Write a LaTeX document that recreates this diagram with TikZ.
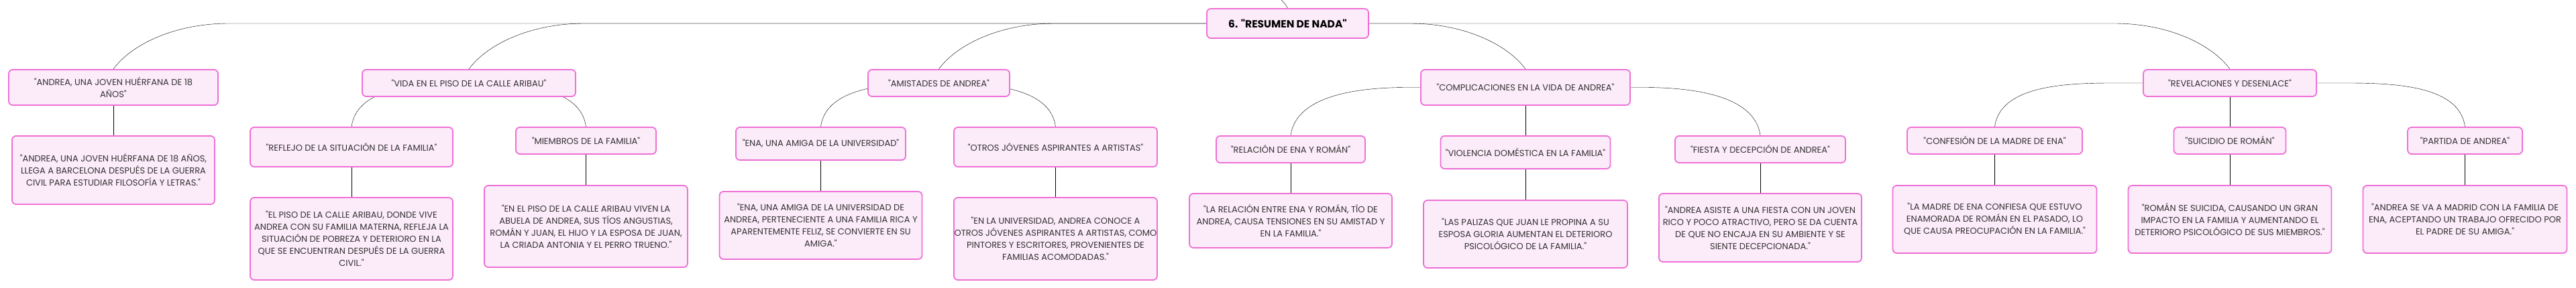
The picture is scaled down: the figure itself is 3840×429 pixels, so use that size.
\documentclass[tikz,border=0pt]{standalone}
\usepackage{fontspec}
\setmainfont{Poppins}[Ligatures=TeXOff]
\usepackage{tikz}
\usetikzlibrary{backgrounds}
\definecolor{boxline}{HTML}{EE6FD6}
\definecolor{boxfill}{HTML}{FCEBF9}
\definecolor{linkgray}{HTML}{767676}
\definecolor{ink}{HTML}{333333}

\begin{document}
\begin{tikzpicture}[x=1pt, y=1pt,
  box/.style 2 args={draw=boxline, line width=1.8pt, fill=boxfill, rounded corners=6pt,
    text=ink, align=center, inner sep=0pt, minimum width=#1pt, minimum height=#2pt,
    font=\fontsize{13}{18}\selectfont},
  rootbox/.style 2 args={box={#1}{#2}, font=\fontsize{15.5}{18}\selectfont\bfseries, text=black},
  link/.style={draw=linkgray, line width=1.2pt},
  trunk left/.style={to path={-- ([xshift=172pt]\tikztotarget.north |- \tikztostart)
    .. controls +(-80pt,0pt) and +(27pt,37pt) .. (\tikztotarget.north)}},
  trunk right/.style={to path={-- ([xshift=-172pt]\tikztotarget.north |- \tikztostart)
    .. controls +(80pt,0pt) and +(-27pt,37pt) .. (\tikztotarget.north)}},
  branch left/.style={to path={-- ([xshift=174pt]\tikztotarget.north |- \tikztostart)
    .. controls +(-73pt,0pt) and +(8pt,60pt) .. (\tikztotarget.north)}},
  branch right/.style={to path={-- ([xshift=-174pt]\tikztotarget.north |- \tikztostart)
    .. controls +(73pt,0pt) and +(-8pt,60pt) .. (\tikztotarget.north)}}]
\useasboundingbox (0,0) rectangle (3840,-429);
\coordinate (r) at (1919.5,-35);
\coordinate (up) at (1909,1);
\coordinate (a1) at (169,-130.5);
\coordinate (a2) at (169,-254);
\coordinate (b1) at (699,-124);
\coordinate (b2) at (524,-219.5);
\coordinate (b3) at (524,-356.5);
\coordinate (b4) at (873.5,-210);
\coordinate (b5) at (873.5,-338);
\coordinate (c1) at (1399.5,-124);
\coordinate (c2) at (1223.5,-214.5);
\coordinate (c3) at (1223.5,-336.5);
\coordinate (c4) at (1573.5,-219.5);
\coordinate (c5) at (1573.5,-356.5);
\coordinate (d1) at (2274,-130.5);
\coordinate (d2) at (1924,-223);
\coordinate (d3) at (1924,-329.5);
\coordinate (d4) at (2274,-227.5);
\coordinate (d5) at (2274,-349.5);
\coordinate (d6) at (2624,-223);
\coordinate (d7) at (2624,-340);
\coordinate (e1) at (3324,-124);
\coordinate (e2) at (2973.5,-210);
\coordinate (e3) at (2973.5,-327.5);
\coordinate (e4) at (3324,-210);
\coordinate (e5) at (3324,-327.5);
\coordinate (e6) at (3674.5,-210);
\coordinate (e7) at (3674.5,-327.5);
% draws boxes
\node[rootbox={241}{44}] (resumen) at (r) {6. "RESUMEN DE NADA"};
\node[box={312}{53}] (huerfana) at (a1) {"ANDREA, UNA JOVEN HUÉRFANA DE 18\\AÑOS"};
\node[box={302}{102}] (llegada) at (a2) {"ANDREA, UNA JOVEN HUÉRFANA DE 18 AÑOS,\\LLEGA A BARCELONA DESPUÉS DE LA GUERRA\\CIVIL PARA ESTUDIAR FILOSOFÍA Y LETRAS."};
\node[box={318}{40}] (piso) at (b1) {"VIDA EN EL PISO DE LA CALLE ARIBAU"};
\node[box={302}{59}] (reflejo) at (b2) {"REFLEJO DE LA SITUACIÓN DE LA FAMILIA"};
\node[box={302}{123}] (pobreza) at (b3) {"EL PISO DE LA CALLE ARIBAU, DONDE VIVE\\ANDREA CON SU FAMILIA MATERNA, REFLEJA LA\\SITUACIÓN DE POBREZA Y DETERIORO EN LA\\QUE SE ENCUENTRAN DESPUÉS DE LA GUERRA\\CIVIL."};
\node[box={209}{40}] (miembros) at (b4) {"MIEMBROS DE LA FAMILIA"};
\node[box={303}{122}] (habitantes) at (b5) {"EN EL PISO DE LA CALLE ARIBAU VIVEN LA\\ABUELA DE ANDREA, SUS TÍOS ANGUSTIAS,\\ROMÁN Y JUAN, EL HIJO Y LA ESPOSA DE JUAN,\\LA CRIADA ANTONIA Y EL PERRO TRUENO."};
\node[box={211}{40}] (amistades) at (c1) {"AMISTADES DE ANDREA"};
\node[box={253}{49}] (ena) at (c2) {"ENA, UNA AMIGA DE LA UNIVERSIDAD"};
\node[box={302}{101}] (enarica) at (c3) {"ENA, UNA AMIGA DE LA UNIVERSIDAD DE\\ANDREA, PERTENECIENTE A UNA FAMILIA RICA Y\\APARENTEMENTE FELIZ, SE CONVIERTE EN SU\\AMIGA."};
\node[box={303}{59}] (artistas) at (c4) {"OTROS JÓVENES ASPIRANTES A ARTISTAS"};
\node[box={303}{123}] (pintores) at (c5) {"EN LA UNIVERSIDAD, ANDREA CONOCE A\\OTROS JÓVENES ASPIRANTES A ARTISTAS, COMO\\PINTORES Y ESCRITORES, PROVENIENTES DE\\FAMILIAS ACOMODADAS."};
\node[box={312}{53}] (complica) at (d1) {"COMPLICACIONES EN LA VIDA DE ANDREA"};
\node[box={222}{40}] (relacion) at (d2) {"RELACIÓN DE ENA Y ROMÁN"};
\node[box={302}{81}] (tension) at (d3) {"LA RELACIÓN ENTRE ENA Y ROMÁN, TÍO DE\\ANDREA, CAUSA TENSIONES EN SU AMISTAD Y\\EN LA FAMILIA."};
\node[box={253}{49}] (violencia) at (d4) {"VIOLENCIA DOMÉSTICA EN LA FAMILIA"};
\node[box={304}{101}] (palizas) at (d5) {"LAS PALIZAS QUE JUAN LE PROPINA A SU\\ESPOSA GLORIA AUMENTAN EL DETERIORO\\PSICOLÓGICO DE LA FAMILIA."};
\node[box={254}{40}] (fiesta) at (d6) {"FIESTA Y DECEPCIÓN DE ANDREA"};
\node[box={302}{102}] (decepcion) at (d7) {"ANDREA ASISTE A UNA FIESTA CON UN JOVEN\\RICO Y POCO ATRACTIVO, PERO SE DA CUENTA\\DE QUE NO ENCAJA EN SU AMBIENTE Y SE\\SIENTE DECEPCIONADA."};
\node[box={258}{40}] (desenlace) at (e1) {"REVELACIONES Y DESENLACE"};
\node[box={261}{40}] (confesion) at (e2) {"CONFESIÓN DE LA MADRE DE ENA"};
\node[box={304}{101}] (madre) at (e3) {"LA MADRE DE ENA CONFIESA QUE ESTUVO\\ENAMORADA DE ROMÁN EN EL PASADO, LO\\QUE CAUSA PREOCUPACIÓN EN LA FAMILIA."};
\node[box={167}{40}] (suicidio) at (e4) {"SUICIDIO DE ROMÁN"};
\node[box={303}{101}] (impacto) at (e5) {"ROMÁN SE SUICIDA, CAUSANDO UN GRAN\\IMPACTO EN LA FAMILIA Y AUMENTANDO EL\\DETERIORO PSICOLÓGICO DE SUS MIEMBROS."};
\node[box={171}{40}] (partida) at (e6) {"PARTIDA DE ANDREA"};
\node[box={304}{101}] (madrid) at (e7) {"ANDREA SE VA A MADRID CON LA FAMILIA DE\\ENA, ACEPTANDO UN TRABAJO OFRECIDO POR\\EL PADRE DE SU AMIGA."};
% draws connectors
\begin{scope}[on background layer, link]
\draw (resumen.north) to[bend right=10] (up);
\draw (resumen.center) to[trunk left] (huerfana);
\draw (resumen.center) to[trunk left] (piso);
\draw (resumen.center) to[trunk left] (amistades);
\draw (resumen.center) to[trunk right] (complica);
\draw (resumen.center) to[trunk right] (desenlace);
\draw (piso.center) to[branch left] (reflejo);
\draw (piso.center) to[branch right] (miembros);
\draw (amistades.center) to[branch left] (ena);
\draw (amistades.center) to[branch right] (artistas);
\draw (complica.center) to[branch left] (relacion);
\draw (complica) -- (violencia);
\draw (complica.center) to[branch right] (fiesta);
\draw (desenlace.center) to[branch left] (confesion);
\draw (desenlace) -- (suicidio);
\draw (desenlace.center) to[branch right] (partida);
\draw (huerfana) -- (llegada);
\draw (reflejo) -- (pobreza);
\draw (miembros) -- (habitantes);
\draw (ena) -- (enarica);
\draw (artistas) -- (pintores);
\draw (relacion) -- (tension);
\draw (violencia) -- (palizas);
\draw (fiesta) -- (decepcion);
\draw (confesion) -- (madre);
\draw (suicidio) -- (impacto);
\draw (partida) -- (madrid);
\end{scope}
\end{tikzpicture}
\end{document}
